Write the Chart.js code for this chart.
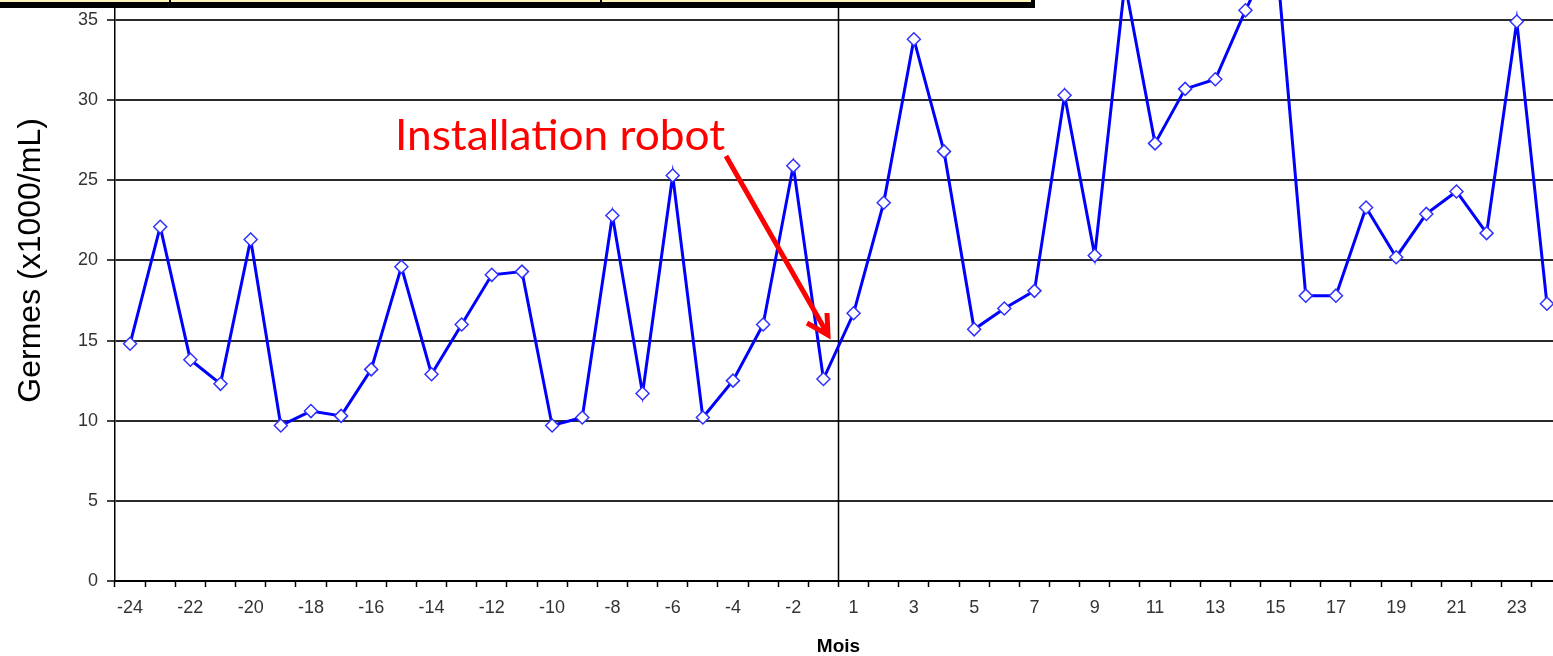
<!DOCTYPE html>
<html lang="fr">
<head>
<meta charset="utf-8">
<title>Germes par mois</title>
<script src="https://cdn.jsdelivr.net/npm/chart.js@4.4.1/dist/chart.umd.min.js"></script>
<style>
  html, body { margin: 0; padding: 0; background: #fff; overflow: hidden; width: 1553px; height: 656px; }
  #wrap { position: absolute; left: 0; top: -80px; width: 1600px; height: 736px; }
  /* bas du tableau coupé en haut de la diapo */
  .tableau { position: absolute; left: 0; top: -14px; width: 1031px; height: 16px; background: #fdf6b8;
             border-bottom: 6px solid #000; border-right: 4px solid #000; }
  .tableau span { position: absolute; top: 0; height: 22px; width: 2px; background: #000; }
</style>
</head>
<body>
<div id="wrap"><canvas id="graphique" width="1600" height="736"></canvas></div>
<div class="tableau"><span style="left:169px"></span><span style="left:600px"></span></div>
<script>
// Données
const mois = ['-24', '-23', '-22', '-21', '-20', '-19', '-18', '-17', '-16', '-15', '-14', '-13',
  '-12', '-11', '-10', '-9', '-8', '-7', '-6', '-5', '-4', '-3', '-2', '-1',
  '1', '2', '3', '4', '5', '6', '7', '8', '9', '10', '11', '12',
  '13', '14', '15', '16', '17', '18', '19', '20', '21', '22', '23', '24'];

const germes = [14.8, 22.1, 13.8, 12.3, 21.3, 9.7, 10.6, 10.3, 13.2, 19.6, 12.9, 16.0,
  19.1, 19.3, 9.7, 10.2, 22.8, 11.7, 25.3, 10.2, 12.5, 16.0, 25.9, 12.6,
  16.7, 23.6, 33.8, 26.8, 15.7, 17.0, 18.1, 30.3, 20.3, 37.3, 27.3, 30.7,
  31.3, 35.6, 39.5, 17.8, 17.8, 23.3, 20.2, 22.9, 24.3, 21.7, 34.9, 17.3];

const etiquettesX = ['-24', '-22', '-20', '-18', '-16', '-14', '-12', '-10', '-8', '-6', '-4', '-2',
  '1', '3', '5', '7', '9', '11', '13', '15', '17', '19', '21', '23'];

const graduationsY = [0, 5, 10, 15, 20, 25, 30, 35, 40];

// le canvas commence 80px au-dessus de la page (haut du graphique coupé)
const decalage = 80;

// Ligne verticale entre -1 et 1 + annotation rouge
const annotations = {
  id: 'annotations',
  beforeDatasetsDraw(chart) {
    const { ctx, chartArea, scales: { x } } = chart;
    const xs = (x.getPixelForValue(mois.indexOf('-1')) + x.getPixelForValue(mois.indexOf('1'))) / 2;
    ctx.save();
    ctx.strokeStyle = '#000';
    ctx.lineWidth = 1.5;
    ctx.beginPath();
    ctx.moveTo(xs, chartArea.top);
    ctx.lineTo(xs, chartArea.bottom);
    ctx.stroke();
    ctx.restore();
  },
  afterDatasetsDraw(chart) {
    const { ctx } = chart;
    ctx.save();
    ctx.translate(0, decalage);
    // texte
    ctx.save();
    ctx.fillStyle = '#ff0000';
    ctx.font = '42px Lato';
    ctx.textBaseline = 'alphabetic';
    const texte = 'Installation robot';
    const w = ctx.measureText(texte).width;
    ctx.translate(395, 150);
    ctx.scale(330 / w, 1);
    ctx.fillText(texte, 0, 0);
    ctx.restore();

    // flèche
    ctx.strokeStyle = '#ff0000';
    ctx.lineWidth = 5;
    ctx.beginPath();
    ctx.moveTo(726, 156);
    ctx.lineTo(827, 333);
    ctx.moveTo(807, 323);
    ctx.lineTo(828, 335);
    ctx.lineTo(827, 313);
    ctx.stroke();
    ctx.restore();
  }
};

const police = 'Liberation Sans, Arial, sans-serif';

new Chart(document.getElementById('graphique'), {
  type: 'line',
  data: {
    labels: mois,
    datasets: [{
      data: germes,
      borderColor: '#0000ff',
      borderWidth: 3,
      tension: 0,
      pointStyle: 'rectRot',
      pointRadius: 6.5,
      pointBackgroundColor: '#ffffff',
      pointBorderColor: '#3030ff',
      pointBorderWidth: 1.5
    }]
  },
  options: {
    responsive: false,
    animation: false,
    layout: { autoPadding: false, padding: { top: 0, right: 38, bottom: 0, left: 0 } },
    plugins: {
      legend: { display: false },
      tooltip: { enabled: false }
    },
    scales: {
      x: {
        offset: true,
        border: { color: '#000', width: 2 },
        grid: { offset: true, drawOnChartArea: false, tickLength: 6, tickColor: '#000', tickWidth: 1.5 },
        ticks: {
          autoSkip: false,
          maxRotation: 0,
          padding: 10,
          color: '#333',
          font: { family: police, size: 18 },
          callback: (v, i) => etiquettesX.includes(mois[i]) ? mois[i] : ''
        },
        title: {
          display: true,
          text: 'Mois',
          color: '#000',
          font: { family: police, size: 19, weight: 'bold', lineHeight: 1 },
          padding: { top: 0, bottom: 0 }
        },
        afterFit: s => { s.height = 75; }
      },
      y: {
        min: graduationsY[0],
        max: graduationsY[graduationsY.length - 1],
        border: { color: '#000', width: 1.5 },
        grid: { color: '#2b2b2b', lineWidth: 2, tickLength: 8, tickColor: '#000', tickWidth: 1.5 },
        afterBuildTicks: s => { s.ticks = graduationsY.map(v => ({ value: v })); },
        ticks: {
          padding: 9,
          color: '#333',
          font: { family: police, size: 18 }
        },
        title: {
          display: true,
          text: 'Germes (x1000/mL)',
          color: '#000',
          font: { family: police, size: 32, lineHeight: 1 },
          padding: { top: 15, bottom: 0 }
        },
        afterFit: s => { s.width = 115; }
      }
    }
  },
  plugins: [annotations]
});
</script>
</body>
</html>
